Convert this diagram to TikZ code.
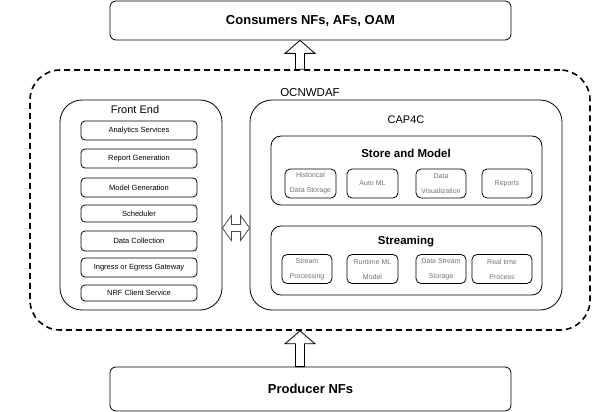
\documentclass[tikz,border=0pt]{standalone}
\usepackage{fontspec}
\setmainfont{Liberation Sans}
\usetikzlibrary{calc}

\newcommand\hollowup[2]{%
  \draw[fill=white, line width=0.8pt] let \p1=(#1), \p2=(#2) in
    (\x1-4.5pt,\y1) -- (\x1-4.5pt,\y2-13pt) -- (\x1-15pt,\y2-13pt) -- (\x1,\y2)
    -- (\x1+15pt,\y2-13pt) -- (\x1+4.5pt,\y2-13pt) -- (\x1+4.5pt,\y1) -- cycle;}
\newcommand\hollowboth[2]{%
  \draw[fill=white, draw=black!70, line width=0.8pt] let \p1=(#1), \p2=(#2) in
    (\x1,\y1) -- (\x1+9pt,\y1+12.5pt) -- (\x1+9pt,\y1+3.5pt) -- (\x2-9pt,\y1+3.5pt)
    -- (\x2-9pt,\y1+12.5pt) -- (\x2,\y1) -- (\x2-9pt,\y1-12.5pt) -- (\x2-9pt,\y1-3.5pt)
    -- (\x1+9pt,\y1-3.5pt) -- (\x1+9pt,\y1-12.5pt) -- cycle;}

\begin{document}
\begin{tikzpicture}
  [x=1pt, y=-1pt,
   every node/.style={inner sep=0pt, align=center},
   bigbox/.style={draw, fill=white, rounded corners=6pt, line width=0.8pt, minimum width=401pt,
     font=\bfseries\fontsize{13}{15}\selectfont},
   outerbox/.style={draw, fill=white, rounded corners=30pt, line width=1.6pt,
     dash pattern=on 6pt off 4pt, minimum width=560pt, minimum height=260pt},
   panel/.style={draw, rounded corners=22pt, line width=0.8pt, minimum height=210pt},
   group/.style={draw, rounded corners=10pt, line width=0.8pt, minimum width=271pt, minimum height=69pt},
   item/.style={draw, rounded corners=4pt, line width=0.8pt, minimum width=116pt,
     font=\fontsize{7.5}{9}\selectfont},
   subitem/.style={draw, rounded corners=5pt, line width=0.8pt, minimum height=29pt,
     text=black!55, font=\fontsize{7}{15}\selectfont},
   title/.style={font=\fontsize{11}{13}\selectfont},
   boldtitle/.style={font=\bfseries\fontsize{11.5}{13}\selectfont}]
  \useasboundingbox (0,0) rectangle (592,412);
  \node[bigbox, minimum height=39pt] (cons) at (310.5,20.5) {Consumers NFs, AFs, OAM};
  \node[bigbox, minimum height=44pt] (prod) at (310.5,389) {Producer NFs};
  \node[outerbox] (outer) at (310,200) {};
  \node[font=\fontsize{11.5}{13}\selectfont] (ocn) at (310,93) {OCNWDAF};
  \coordinate (ax) at (300,0);
  \hollowup{ax |- outer.north}{ax |- cons.south}
  \hollowup{ax |- prod.north}{ax |- outer.south}

  \node[panel, minimum width=162pt] (fe) at (141,205) {};
  \node[title] (fetitle) at (135,110) {Front End};
  \node[item, minimum height=19pt] (as) at (139,130.5) {Analytics Services};
  \node[item, minimum height=19pt] (rg) at (139,158.5) {Report Generation};
  \node[item, minimum height=19pt] (mg) at (139,187.5) {Model Generation};
  \node[item, minimum height=17pt] (sch) at (139,213.5) {Scheduler};
  \node[item, minimum height=20pt] (dc) at (139,241) {Data Collection};
  \node[item, minimum height=19pt] (ieg) at (139,267.5) {Ingress or Egress Gateway};
  \node[item, minimum height=16pt] (nrf) at (139,293) {NRF Client Service};

  \node[panel, minimum width=312pt] (cap) at (406,205) {};
  \node[title] (captitle) at (406,120) {CAP4C};
  \node[group] (sm) at (406.5,170.5) {};
  \node[boldtitle] (smtitle) at (406,153) {Store and Model};
  \node[subitem, minimum width=51pt] (hds) at (310.5,183.5) {Historical\\Data Storage};
  \node[subitem, minimum width=51pt] (aml) at (372.5,183.5) {Auto ML};
  \node[subitem, minimum width=50pt] (dv) at (441,183.5) {Data\\Visualization};
  \node[subitem, minimum width=50pt] (rep) at (507,183.5) {Reports};
  \node[group] (st) at (406.5,260.5) {};
  \node[boldtitle] (sttitle) at (406,242) {Streaming};
  \node[subitem, minimum width=50pt] (sp) at (307,269) {Stream\\Processing};
  \node[subitem, minimum width=51pt] (rml) at (372.5,269) {Runtime ML\\Model};
  \node[subitem, minimum width=50pt] (dss) at (441,269) {Data Stream\\Storage};
  \node[subitem, minimum width=60pt] (rtp) at (502,269) {Real time\\Process};

  \coordinate (dy) at (0,228);
  \hollowboth{fe.east |- dy}{cap.west |- dy}
\end{tikzpicture}
\end{document}
